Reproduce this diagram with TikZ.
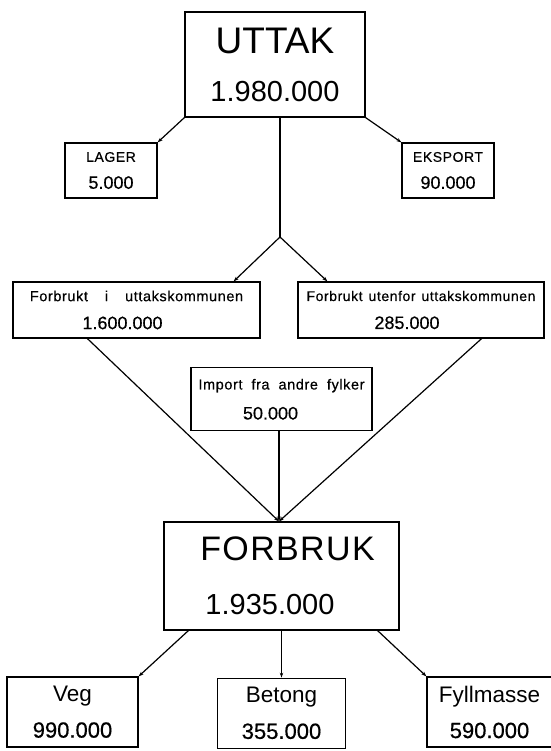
\documentclass[tikz,border=0pt]{standalone}
\usepackage{fontspec}
\setmainfont{Liberation Sans}
\newfontfamily\plotfont{Liberation Sans}[LetterSpace=4,FakeBold=0.5]
\newfontfamily\plotnum{Liberation Sans}[FakeBold=0.5]
\usetikzlibrary{arrows.meta,positioning,calc}

\begin{document}
\begin{tikzpicture}[
  x=1pt, y=-1pt,
  box/.style={rectangle, draw, line width=1.2pt, inner sep=0pt, align=center},
  arrow/.style={line width=1.2pt, -{Stealth[length=5pt,width=3.5pt]}},
  line/.style={line width=1.2pt}
]
  \useasboundingbox (0,0) rectangle (550,751);
  % uttak og fordeling
  \node[box, minimum width=180pt, minimum height=105pt,
        font=\fontsize{37}{48}\selectfont] (uttak) at (275,64.5)
        {UTTAK\\\fontsize{29}{29}\selectfont 1.980.000};
  \node[box, minimum width=92pt, minimum height=55pt,
        font=\plotfont\fontsize{14}{27}\selectfont] (lager) at (111,170.5)
        {LAGER\\\plotnum\fontsize{18}{18}\selectfont 5.000};
  \node[box, minimum width=92pt, minimum height=55pt,
        font=\plotfont\fontsize{14}{27}\selectfont] (eksport) at (448,170.5)
        {EKSPORT\\\plotnum\fontsize{18}{18}\selectfont 90.000};
  \node[box, minimum width=247pt, minimum height=56pt,
        font=\plotfont\fontsize{14.5}{28}\selectfont] (inne) at (136.5,310)
        {Forbrukt\hspace{17pt}i\hspace{17pt}uttakskommunen\\\plotnum\fontsize{18}{18}\selectfont 1.600.000\hspace*{28pt}};
  \node[box, minimum width=246pt, minimum height=56pt,
        font=\plotfont\fontsize{14}{28}\selectfont] (utenfor) at (421,310)
        {Forbrukt\hspace{6pt}utenfor\hspace{6pt}uttakskommunen\\\plotnum\fontsize{18}{18}\selectfont 285.000\hspace*{28pt}};
  % forbruk
  \node[box, minimum width=235pt, minimum height=108pt,
        font=\fontsize{34}{54}\selectfont] (forbruk) at (281.5,576)
        {\hspace*{12pt}\addfontfeature{LetterSpace=4}FORBRUK\\\fontsize{29}{29}\selectfont 1.935.000\hspace*{23pt}};
  \node[box, minimum width=181pt, minimum height=63pt, above=90pt of forbruk,
        font=\plotfont\fontsize{14.5}{30}\selectfont] (import)
        {Import\hspace{9pt}fra\hspace{9pt}andre\hspace{9pt}fylker\\\plotnum\fontsize{18}{18}\selectfont 50.000\hspace*{22pt}};
  \node[box, minimum width=131pt, minimum height=70pt,
        font=\fontsize{22.5}{36}\selectfont] (veg) at (72.5,712)
        {Veg\\\plotnum\fontsize{22}{22}\selectfont 990.000};
  \node[box, minimum width=128pt, minimum height=70pt, below=47pt of forbruk,
        font=\fontsize{22.5}{36}\selectfont] (betong)
        {Betong\\\plotnum\fontsize{22}{22}\selectfont 355.000};
  \node[box, minimum width=125pt, minimum height=70pt,
        font=\fontsize{22.5}{36}\selectfont] (fyll) at (489.5,712)
        {Fyllmasse\\\plotnum\fontsize{22}{22}\selectfont 590.000};

  \draw[arrow] (uttak.south west) -- (lager.north east);
  \draw[arrow] (uttak.south east) -- (eksport.north west);
  \coordinate (split) at (280,237);
  \draw[line] (uttak.south -| split) -- (split);
  \draw[arrow] (split) -- ($(inne.north east)+(-27,0)$);
  \draw[arrow] (split) -- ($(utenfor.north west)+(30,0)$);
  \coordinate (inn) at ($(forbruk.north)+(-2.5,0)$);
  \draw[arrow] ($(inne.south west)+(75,0)$) -- (inn);
  \draw[arrow] ($(utenfor.south east)+(-63,0)$) -- (inn);
  \draw[arrow] (import.south -| inn) -- (inn);
  \draw[arrow] ($(forbruk.south west)+(25,0)$) -- (veg.north east);
  \draw[arrow] (forbruk.south -| betong.north) -- (betong.north);
  \draw[arrow] ($(forbruk.south east)+(-22,0)$) -- (fyll.north west);
\end{tikzpicture}
\end{document}
